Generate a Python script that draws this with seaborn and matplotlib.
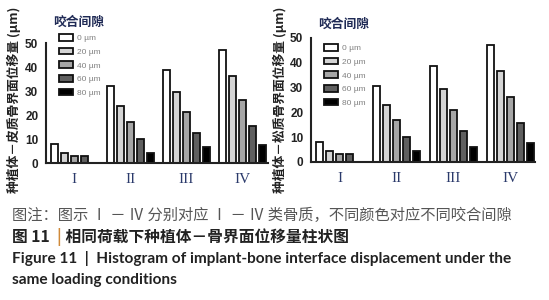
import numpy as np
import pandas as pd
import matplotlib
matplotlib.use("Agg")
import matplotlib.pyplot as plt
import seaborn as sns

# ---- data ----
bone_types = ["I", "II", "III", "IV"]
gap_labels = ["0 µm", "20 µm", "40 µm", "60 µm", "80 µm"]
cortical_0 = [8.0, 32.0, 38.7, 47.1]
cortical_20 = [4.3, 23.8, 29.4, 36.2]
cortical_40 = [3.0, 16.9, 21.1, 26.2]
cortical_60 = [3.0, 9.8, 12.3, 15.6]
cortical_80 = [0.0, 4.2, 6.5, 7.5]
cancellous_0 = [7.9, 30.8, 38.6, 47.2]
cancellous_20 = [4.3, 23.1, 29.4, 36.6]
cancellous_40 = [3.1, 16.8, 21.1, 26.2]
cancellous_60 = [3.1, 10.1, 12.6, 15.7]
cancellous_80 = [0.0, 4.3, 5.9, 7.8]
yticks = [0, 10, 20, 30, 40, 50]
ylabel_left = "种植体－皮质骨界面位移量 (µm)"
ylabel_right = "种植体－松质骨界面位移量 (µm)"
legend_title = "咬合间隙"
caption1 = "图注：图示 Ⅰ － Ⅳ 分别对应 Ⅰ － Ⅳ 类骨质，不同颜色对应不同咬合间隙"
caption2a = "图 11  "
caption2b = "|"
caption2c = " 相同荷载下种植体－骨界面位移量柱状图"
caption3 = "Figure 11  |  Histogram of implant-bone interface displacement under the"
caption4 = "same loading conditions"

colors = ["#ffffff", "#d4d4d4", "#a6a6a6", "#5f5f5f", "#000000"]


def long_df(series):
    rows = []
    for g, vals in zip(gap_labels, series):
        for b, v in zip(bone_types, vals):
            rows.append({"bone": b, "gap": g, "value": v})
    return pd.DataFrame(rows)


df_left = long_df([cortical_0, cortical_20, cortical_40, cortical_60, cortical_80])
df_right = long_df([cancellous_0, cancellous_20, cancellous_40, cancellous_60, cancellous_80])

sns.set_style("white")
plt.rcParams["font.family"] = ["Noto Sans CJK SC", "DejaVu Sans"]

W, H = 549, 300
fig = plt.figure(figsize=(W / 100, H / 100), dpi=100)


def px_axes(x0, x1, ytop, ybot):
    return fig.add_axes([x0 / W, 1 - ybot / H, (x1 - x0) / W, (ybot - ytop) / H])


ax1 = px_axes(46, 268, 43, 163)
ax2 = px_axes(311, 535, 38, 162)

for ax, df, xlim in [(ax1, df_left, 3.46), (ax2, df_right, 3.43)]:
    sns.barplot(data=df, x="bone", y="value", hue="gap", palette=colors,
                edgecolor="#111111", linewidth=1.3, width=0.89, gap=0.3,
                ax=ax, legend=True, errorbar=None)
    ax.set_ylim(0, 50)
    ax.set_xlim(-0.5, xlim)
    ax.set_yticks(yticks)
    ax.set_xlabel("")
    ax.set_ylabel("")
    for s in ["top", "right"]:
        ax.spines[s].set_visible(False)
    for s in ["left", "bottom"]:
        ax.spines[s].set_linewidth(1.5)
        ax.spines[s].set_color("#222222")
    ax.tick_params(axis="both", direction="out", length=4, width=1.3, color="#222222")
    ax.tick_params(axis="y", pad=1.5)
    for lab in ax.get_yticklabels():
        lab.set_fontfamily(["Liberation Sans"])
        lab.set_fontweight("bold")
        lab.set_fontsize(8.5)
        lab.set_color("#222222")
    ax.set_xticks(range(len(bone_types)))
    ax.set_xticklabels(bone_types, fontfamily=["Liberation Serif"], fontsize=11,
                       color="#2b3a6b")
    ax.patch.set_alpha(0)

# y labels
fig.text(14 / W, 1 - 100 / H, ylabel_left, rotation=90, ha="center", va="center",
         fontsize=9.2, fontweight="bold", color="#222222")
fig.text(280 / W, 1 - 100 / H, ylabel_right, rotation=90, ha="center", va="center",
         fontsize=9.2, fontweight="bold", color="#222222")

# legends (entries) and their titles
for ax, (lx, ly), (tx, ty) in [(ax1, (55, 30), (53, 22)), (ax2, (320, 40), (318, 24))]:
    handles, labels = ax.get_legend_handles_labels()
    ax.get_legend().remove()
    leg = ax.legend(handles, labels, loc="upper left",
                    bbox_to_anchor=(lx / W, 1 - ly / H), bbox_transform=fig.transFigure,
                    frameon=False, fontsize=6, handlelength=1.6, handleheight=0.85,
                    labelspacing=0.65, handletextpad=0.5, borderpad=0)
    for t in leg.get_texts():
        t.set_color("#808080")
        t.set_fontfamily(["Liberation Sans"])
    fig.text(tx / W, 1 - ty / H, legend_title, ha="left", va="center", fontsize=9.2,
             fontweight="bold", color="#1f2a55")

# captions
fig.text(12 / W, 1 - 215 / H, caption1, ha="left", va="center", fontsize=11,
         color="#555555", family=["Noto Sans CJK SC", "DejaVu Sans"])
t2a = fig.text(12 / W, 1 - 237 / H, caption2a, ha="left", va="center", fontsize=11.3,
               fontweight="bold", color="#222222", family=["Noto Sans CJK SC"])
fig.canvas.draw()
r = fig.canvas.get_renderer()
bb = t2a.get_window_extent(r)
t2b = fig.text(bb.x1 / W, 1 - 237 / H, caption2b, ha="left", va="center", fontsize=11.3,
               fontweight="bold", color="#d08a3a", family=["Noto Sans CJK SC"])
bb2 = t2b.get_window_extent(r)
fig.text(bb2.x1 / W, 1 - 237 / H, caption2c, ha="left", va="center", fontsize=11.3,
         fontweight="bold", color="#222222", family=["Noto Sans CJK SC"])
fig.text(12 / W, 1 - 258 / H, caption3, ha="left", va="center", fontsize=11.1,
         fontweight="bold", color="#222222", family=["Lato"])
fig.text(12 / W, 1 - 280 / H, caption4, ha="left", va="center", fontsize=11.1,
         fontweight="bold", color="#222222", family=["Lato"])

fig.savefig("out.png", dpi=100)
